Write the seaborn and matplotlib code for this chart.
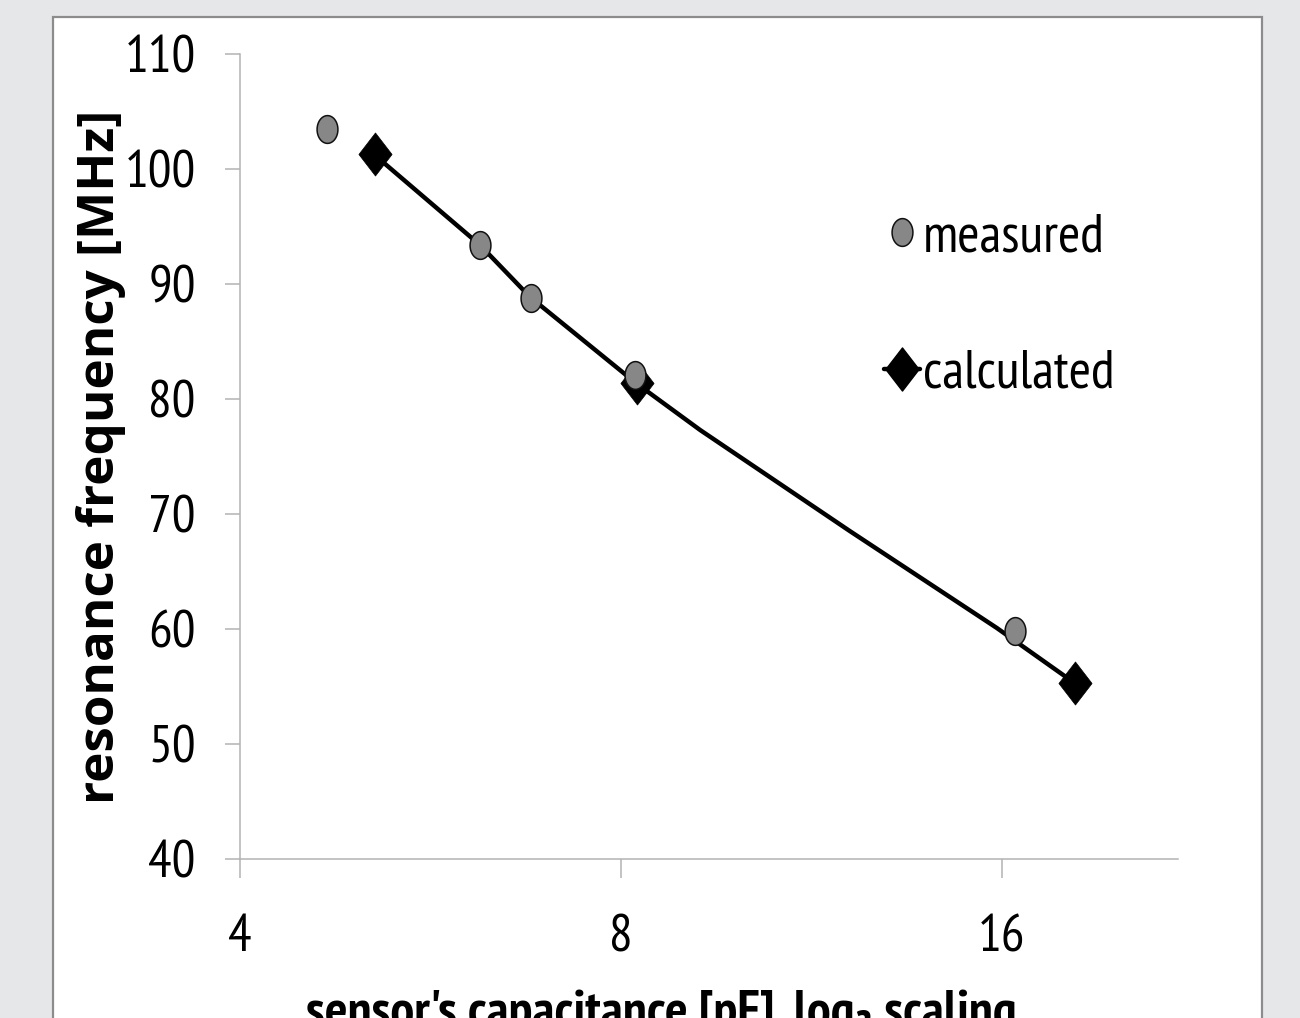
import numpy as np
import pandas as pd
import matplotlib
matplotlib.use("Agg")
import matplotlib.pyplot as plt
import seaborn as sns
from matplotlib.path import Path
from matplotlib.markers import MarkerStyle
from matplotlib.lines import Line2D
from matplotlib.patches import Rectangle

# ---- data ----
measured_c = [4.69, 6.19, 6.79, 8.20, 16.38]
measured_f = [103.5, 93.4, 88.8, 82.1, 59.85]

calculated_c = [5.11, 8.23, 18.27]
calculated_f = [101.28, 81.37, 55.28]

# points read along the drawn (smoothed) curve of the calculated series
curve_c = [5.11, 6.19, 6.78, 8.22, 9.24, 12.13, 15.85, 18.27]
curve_f = [101.22, 93.39, 88.87, 81.39, 77.30, 68.52, 60.09, 55.28]

x_ticks = [4, 8, 16]
x_tick_labels = ["4", "8", "16"]
y_ticks = [40, 50, 60, 70, 80, 90, 100, 110]

sns.set_theme(style="white")
NARROW = ["PT Sans Narrow", "Carlito", "DejaVu Sans"]
plt.rcParams["font.family"] = NARROW
plt.rcParams["text.color"] = "black"
plt.rcParams["axes.labelcolor"] = "black"

W, H = 1300, 1018
fig = plt.figure(figsize=(W / 100, H / 100), dpi=100, facecolor="#e6e7e9")

# white panel with grey border
panel = Rectangle((53 / W, -0.05), (1262 - 53) / W, 1 - 17 / H + 0.05,
                  transform=fig.transFigure, facecolor="white",
                  edgecolor="#8c8c8c", linewidth=1.6, zorder=0)
fig.add_artist(panel)

ax = fig.add_axes([240 / W, 1 - 859 / H, (1178 - 240) / W, (859 - 54) / H])
ax.set_facecolor("none")

ell = np.linspace(0, 2 * np.pi, 60)
ellipse_path = Path(np.column_stack([0.75 * np.cos(ell), np.sin(ell)]), closed=True)
diamond_path = Path([(0, 1), (0.77, 0), (0, -1), (-0.77, 0), (0, 1)], closed=True)
circ_m = MarkerStyle(ellipse_path)
diam_m = MarkerStyle(diamond_path)

df_curve = pd.DataFrame({"c": curve_c, "f": curve_f})
df_calc = pd.DataFrame({"c": calculated_c, "f": calculated_f})
df_meas = pd.DataFrame({"c": measured_c, "f": measured_f})

sns.lineplot(data=df_curve, x="c", y="f", ax=ax, color="black", linewidth=3.2,
             sort=False, zorder=2)
sns.scatterplot(data=df_calc, x="c", y="f", ax=ax, marker=diam_m, s=31 ** 2,
                color="black", edgecolor="black", linewidth=0.5, zorder=3)
sns.scatterplot(data=df_meas, x="c", y="f", ax=ax, marker=circ_m, s=20 ** 2,
                color="#878787", edgecolor="#111111", linewidth=1.1, zorder=4)

ax.set_xscale("log", base=2)
ax.set_xlim(4, 22.04)
ax.set_ylim(40, 110)
ax.set_xticks(x_ticks)
ax.set_xticklabels(x_tick_labels)
ax.minorticks_off()
ax.set_yticks(y_ticks)

for s in ["top", "right"]:
    ax.spines[s].set_visible(False)
for s in ["left", "bottom"]:
    ax.spines[s].set_color("#b3b3b3")
    ax.spines[s].set_linewidth(1.1)

ax.tick_params(axis="y", direction="out", length=10.8, width=1.1, color="#b3b3b3",
               labelsize=38, pad=21, left=True, labelcolor="black")
ax.tick_params(axis="x", direction="out", length=13.7, width=1.1, color="#b3b3b3",
               labelsize=38, pad=26, bottom=True, labelcolor="black")

ax.set_xlabel("")
ax.set_ylabel("resonance frequency [MHz]", family=["Open Sans", "DejaVu Sans"],
              fontweight="bold", fontsize=36.8)
ax.yaxis.set_label_coords(-0.122, 0.5)

fig.text(661 / W, 1 - 1027 / H, "sensor's capacitance [pF], log\u2082 scaling",
         family=NARROW, fontweight="bold",
         fontsize=38.5, ha="center", va="baseline")

handles = [
    Line2D([], [], linestyle="none", marker=circ_m, markersize=20,
           markerfacecolor="#878787", markeredgecolor="#111111", markeredgewidth=1.1),
    Line2D([], [], color="black", linewidth=3.2, marker=diam_m, markersize=31,
           markerfacecolor="black", markeredgecolor="black"),
]
ax.legend(handles, ["measured", "calculated"], loc="upper left",
          bbox_to_anchor=(884 / W, 1 - 213 / H), bbox_transform=fig.transFigure,
          frameon=False, fontsize=39, handlelength=0.67, handletextpad=0.05,
          labelspacing=1.62, borderpad=0, borderaxespad=0)

fig.savefig("out.png", dpi=100, facecolor=fig.get_facecolor())
